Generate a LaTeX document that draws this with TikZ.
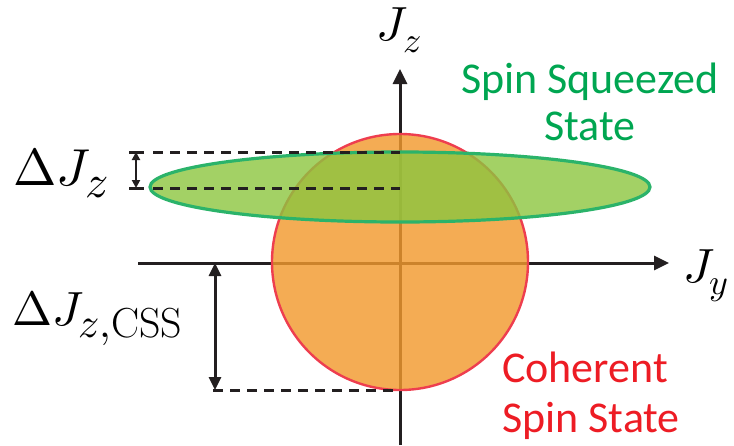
\documentclass[tikz,border=0pt]{standalone}
\usepackage{fontspec}
\setmainfont{Carlito}
\usepackage{unicode-math}
\setmathfont{Latin Modern Math}
\setmathrm{Latin Modern Roman}
\usetikzlibrary{arrows.meta}
\definecolor{cssred}{HTML}{EE3E4F}
\definecolor{cssfill}{HTML}{F29A2E}
\definecolor{sssline}{HTML}{2BB36A}
\definecolor{sssfill}{HTML}{8CC63F}
\definecolor{txtgreen}{HTML}{00A651}
\definecolor{txtred}{HTML}{ED1C24}
\definecolor{ink}{HTML}{231F20}
\newcommand{\subbig}[2]{\hbox{\fontsize{#1}{#1}\selectfont$#2$}}
\tikzset{
  axis/.style={draw=ink, line width=3pt, -{Triangle[length=15pt,width=14pt]}},
  dim/.style={draw=ink, line width=3pt, {Triangle[length=13pt,width=12pt]}-{Triangle[length=13pt,width=12pt]}},
  smalldim/.style={draw=ink, line width=2.2pt, {Triangle[length=8pt,width=8pt]}-{Triangle[length=8pt,width=8pt]}},
  bar/.style={draw=ink, line width=3pt},
  guide/.style={draw=ink, line width=3pt, dash pattern=on 10pt off 7pt},
  mathlbl/.style={font=\fontsize{48}{52}\selectfont, inner sep=0pt},
  greenlbl/.style={font=\fontsize{44}{47}\selectfont, inner sep=0pt, align=center, text=txtgreen},
  redlbl/.style={font=\fontsize{44}{50}\selectfont, inner sep=0pt, align=left, text=txtred}
}
\begin{document}
\begin{tikzpicture}[x=1pt,y=-1pt]
\useasboundingbox (0,0) rectangle (734,445);
% axes
\coordinate (ybot) at (400,445);
\coordinate (ytop) at (400,69);
\coordinate (xl) at (138,263);
\coordinate (xr) at (669,263);
\draw[axis] (ybot) -- (ytop);
\draw[axis] (xl) -- (xr);
% coherent spin state circle
\fill[cssfill, fill opacity=0.82] (400,262) circle (128);
\draw[cssred, line width=2.4pt] (400,262) circle (128);
% squeezed ellipse
\fill[sssfill, fill opacity=0.8] (400,187) ellipse (250 and 35);
\draw[sssline, line width=3.2pt] (400,187) ellipse (250 and 35);
% dashed guides
\coordinate (d1a) at (153,152); \coordinate (d1b) at (400,152);
\coordinate (d2a) at (153,188); \coordinate (d2b) at (400,188);
\coordinate (d3a) at (213,390); \coordinate (d3b) at (400,390);
\draw[guide] (d1a) -- (d1b);
\draw[guide] (d2a) -- (d2b);
\draw[guide] (d3a) -- (d3b);
% small dimension
\coordinate (s1) at (136,152); \coordinate (s2) at (136,188);
\coordinate (t1a) at (129,152); \coordinate (t1b) at (144,152);
\coordinate (t2a) at (129,188); \coordinate (t2b) at (144,188);
\draw[bar] (t1a) -- (t1b);
\draw[bar] (t2a) -- (t2b);
\draw[smalldim] (s1) -- (s2);
% large dimension
\coordinate (b1) at (215,263); \coordinate (b2) at (215,390);
\draw[dim] (b1) -- (b2);
% labels
\node[mathlbl] (jz) at (399,30) {$J_{\subbig{36}{z}}$};
\node[mathlbl] (jy) at (706,276) {$J_{\subbig{36}{y}}$};
\node[mathlbl, font=\fontsize{52}{56}\selectfont, anchor=base west] (djz) at (13,185) {$\Delta J_{\subbig{46}{z}}$};
\node[mathlbl, anchor=base west] (djc) at (12,325) {$\Delta J_{\subbig{42}{z{,}\mathrm{CSS}}}$};
\node[greenlbl] (sss) at (590,102) {Spin Squeezed\\State};
\node[redlbl, anchor=west] (css) at (502,396) {Coherent\\Spin State};
\end{tikzpicture}
\end{document}
